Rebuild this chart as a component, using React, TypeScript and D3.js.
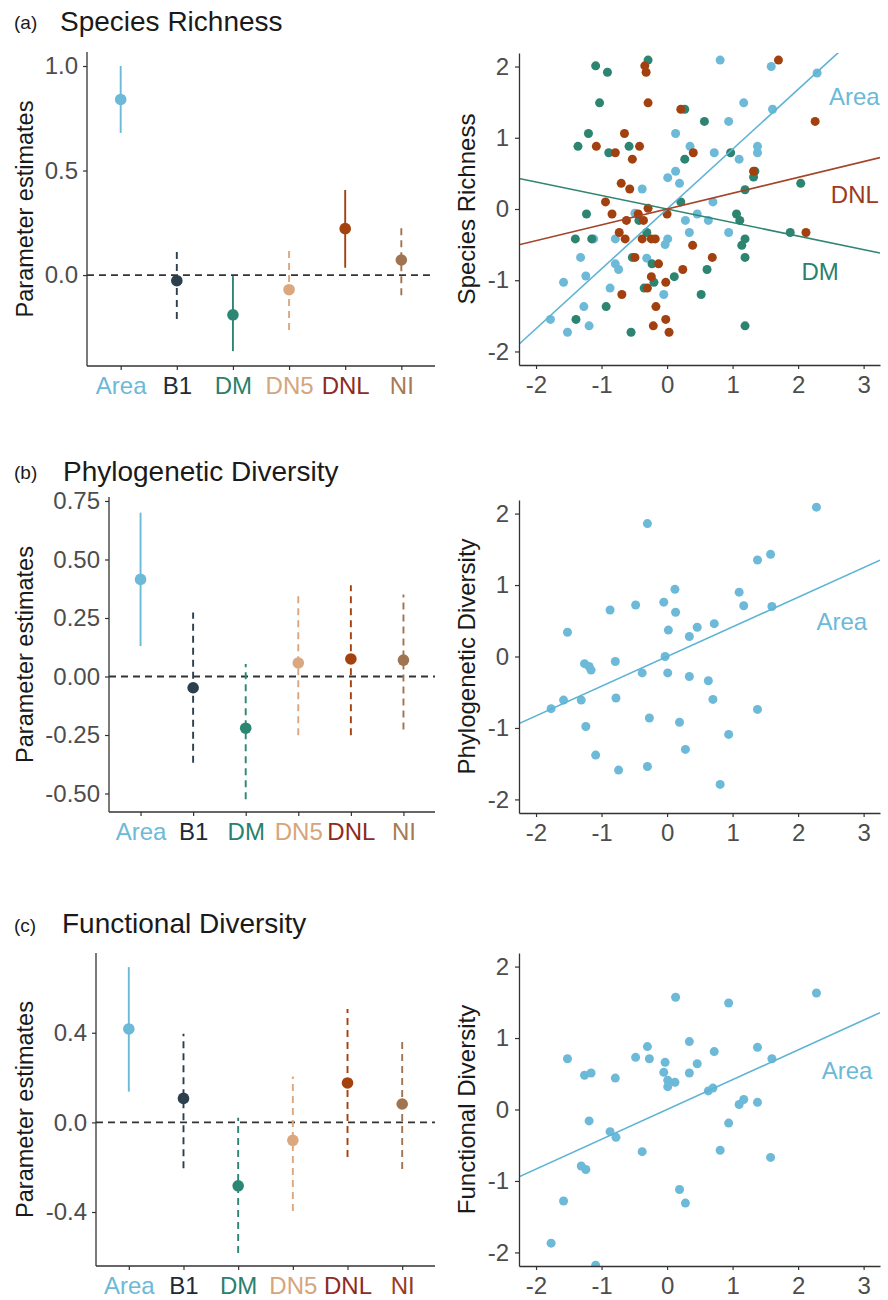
import * as d3 from "d3";
import React, { useEffect, useRef } from "react";

// ---- categories / colours ----
const categories = ["Area", "B1", "DM", "DN5", "DNL", "NI"];
const catColors = ["#6cb9d8", "#2b3f4d", "#2c8673", "#dba77e", "#a4420f", "#a07450"];
const catLabelColors = ["#6cb9d8", "#1e2a36", "#2b7f6e", "#d6a57c", "#8e2a1e", "#a77a52"];
const catLabelColorsC = ["#6cb9d8", "#1e2a36", "#2b7f6e", "#d6a57c", "#8e2a1e", "#9a3a22"];

// ---- parameter estimates ----
const srEst = [0.84, -0.027, -0.19, -0.07, 0.222, 0.072];
const srLow = [0.68, -0.21, -0.364, -0.263, 0.035, -0.096];
const srHigh = [1.0, 0.13, -0.005, 0.123, 0.407, 0.243];
const srSig = [true, false, true, false, true, false];

const pdEst = [0.415, -0.048, -0.221, 0.058, 0.075, 0.07];
const pdLow = [0.13, -0.369, -0.524, -0.251, -0.251, -0.226];
const pdHigh = [0.7, 0.273, 0.053, 0.363, 0.39, 0.35];
const pdSig = [true, false, false, false, false, false];

const fdEst = [0.417, 0.107, -0.283, -0.08, 0.176, 0.082];
const fdLow = [0.137, -0.205, -0.583, -0.396, -0.155, -0.208];
const fdHigh = [0.693, 0.396, 0.021, 0.205, 0.506, 0.372];
const fdSig = [true, false, false, false, false, false];

// ---- scatter data (standardised) ----
const srAreaX = [-1.78, -1.58, -1.52, -1.32, -1.27, -1.24, -1.19, -1.12, -0.87, -0.79, -0.79, -0.74, -0.49, -0.38, -0.31, -0.05, -0.03, 0.01, 0.01, 0.13, 0.13, 0.19, 0.28, 0.34, 0.35, 0.46, 0.63, 0.7, 0.72, 0.81, 0.94, 0.94, 1.1, 1.17, 1.38, 1.38, 1.59, 1.61, 2.29];
const srAreaY = [-1.55, -1.03, -1.73, -0.68, -1.37, -0.94, -1.64, -0.42, -1.11, -0.42, -0.77, -0.85, -0.06, 0.28, -0.69, -1.2, -0.5, -0.42, 0.44, 0.53, 1.06, 0.36, -0.16, -0.33, 0.88, -0.07, -0.16, 0.1, 0.79, 2.09, 1.23, -0.33, 0.7, 1.49, 0.88, 0.79, 2.0, 1.4, 1.91];

const srDmX = [-0.29, -1.09, -0.91, -1.03, -1.2, -1.36, -0.89, -0.58, 0.27, 0.57, 0.27, 0.97, 1.32, 1.34, 1.19, 2.04, -1.23, -1.4, -1.15, -0.43, -0.31, 0.21, 1.06, 1.11, 1.19, 1.14, 1.19, 1.88, -0.53, -0.23, -0.2, -0.35, 0.11, 0.61, 0.52, -0.93, -1.39, -0.55, 1.19];
const srDmY = [2.09, 2.01, 1.92, 1.49, 1.06, 0.88, 0.79, 0.88, 1.4, 1.23, 0.7, 0.79, 0.45, 0.53, 0.27, 0.36, -0.07, -0.42, -0.42, -0.16, -0.33, 0.1, -0.07, -0.16, -0.42, -0.51, -0.68, -0.33, -0.68, -0.77, -1.03, -1.11, -0.95, -0.85, -1.2, -1.37, -1.55, -1.73, -1.64];

const srDnlX = [-0.34, -0.32, 1.7, -0.29, 0.21, 2.26, -0.65, -1.08, -0.79, -0.42, -0.53, 0.4, 1.32, -0.7, -0.57, -0.94, -0.84, -0.29, -0.44, 0.0, -0.62, -0.36, -0.73, -0.64, -0.38, -0.24, -0.18, 0.39, -0.49, -0.13, 0.69, 2.12, 0.24, -0.24, -0.3, -0.02, -0.69, -0.17, -0.21, -0.02, 0.03];
const srDnlY = [2.01, 1.92, 2.09, 1.49, 1.4, 1.23, 1.06, 0.88, 0.79, 0.88, 0.7, 0.79, 0.53, 0.36, 0.28, 0.1, -0.07, 0.01, -0.07, -0.07, -0.16, -0.16, -0.33, -0.42, -0.42, -0.42, -0.42, -0.51, -0.68, -0.77, -0.68, -0.33, -0.85, -0.95, -1.11, -1.03, -1.2, -1.37, -1.64, -1.55, -1.73];

const pdX = [-1.77, -1.58, -1.52, -1.31, -1.26, -1.24, -1.19, -1.16, -1.09, -0.87, -0.79, -0.78, -0.74, -0.48, -0.38, -0.3, -0.3, -0.27, -0.05, -0.03, 0.01, 0.02, 0.12, 0.13, 0.19, 0.28, 0.34, 0.34, 0.46, 0.63, 0.7, 0.72, 0.81, 0.94, 1.1, 1.17, 1.38, 1.38, 1.58, 1.6, 2.28];
const pdY = [-0.73, -0.61, 0.34, -0.61, -0.1, -0.98, -0.14, -0.19, -1.38, 0.65, -0.07, -0.58, -1.59, 0.72, -0.23, 1.86, -1.54, -0.86, 0.76, 0.0, -0.23, 0.37, 0.94, 0.62, -0.92, -1.3, 0.28, -0.28, 0.41, -0.34, -0.6, 0.46, -1.79, -1.09, 0.9, 0.71, 1.35, -0.74, 1.43, 0.7, 2.09];

const fdX = [-1.77, -1.58, -1.52, -1.31, -1.26, -1.24, -1.19, -1.16, -1.09, -0.87, -0.79, -0.78, -0.48, -0.38, -0.3, -0.27, -0.03, -0.05, 0.01, 0.01, 0.13, 0.12, 0.19, 0.28, 0.34, 0.34, 0.46, 0.63, 0.7, 0.72, 0.81, 0.94, 0.94, 1.1, 1.17, 1.38, 1.38, 1.58, 1.6, 2.28];
const fdY = [-1.87, -1.28, 0.71, -0.79, 0.48, -0.84, -0.16, 0.51, -2.18, -0.31, 0.44, -0.39, 0.73, -0.59, 0.88, 0.71, 0.66, 0.52, 0.41, 0.32, 1.57, 0.38, -1.12, -1.31, 0.95, 0.51, 0.64, 0.26, 0.3, 0.81, -0.57, 1.49, -0.19, 0.07, 0.14, 0.87, 0.1, -0.67, 0.71, 1.63];

const scatterXTicks = [-2, -1, 0, 1, 2, 3];
const scatterYTicks = [-2, -1, 0, 1, 2];

const FONT = "'Liberation Sans', Arial, Helvetica, sans-serif";
const fix = (s: string) => s.replace("\u2212", "-");

function styleAxis(g: any) {
  g.attr("font-family", FONT).attr("font-size", 24);
  g.select(".domain").attr("stroke", "#333").attr("stroke-width", 1.3);
  g.selectAll(".tick line").attr("stroke", "#333").attr("stroke-width", 1.2);
  g.selectAll(".tick text").attr("fill", "#4d4d4d");
}

function drawCoef(svg: any, p: any) {
  const x = d3.scalePoint().domain(categories).range([p.x0, p.x1]).padding(0.6);
  const y = d3.scaleLinear().domain(p.domain).range([p.y1, p.y0]);
  const g = svg.append("g");

  // zero line
  g.append("line")
    .attr("x1", p.x0).attr("x2", p.x1)
    .attr("y1", y(0)).attr("y2", y(0))
    .attr("stroke", "#333").attr("stroke-width", 1.8)
    .attr("stroke-dasharray", "7,5");

  const rows = categories.map((c, i) => ({ c, i, est: p.est[i], lo: p.low[i], hi: p.high[i], sig: p.sig[i] }));

  g.selectAll(".bar").data(rows).enter().append("line")
    .attr("x1", (d: any) => x(d.c)).attr("x2", (d: any) => x(d.c))
    .attr("y1", (d: any) => y(d.lo)).attr("y2", (d: any) => y(d.hi))
    .attr("stroke", (d: any) => catColors[d.i])
    .attr("stroke-width", 1.9)
    .attr("stroke-dasharray", (d: any) => (d.sig ? null : "7,5"));

  g.selectAll(".pt").data(rows).enter().append("circle")
    .attr("cx", (d: any) => x(d.c)).attr("cy", (d: any) => y(d.est))
    .attr("r", 5.8)
    .attr("fill", (d: any) => catColors[d.i]);

  const ax = g.append("g").attr("transform", `translate(${p.x0},0)`)
    .call(d3.axisLeft(y).tickValues(p.ticks).tickSize(4).tickPadding(5).tickSizeOuter(0)
      .tickFormat((v: any) => fix(d3.format(p.fmt)(v))));
  styleAxis(ax);
  ax.select(".domain").attr("d", `M0,${p.y1}V${p.y0}`);

  const bx = g.append("g").attr("transform", `translate(0,${p.y1})`)
    .call(d3.axisBottom(x).tickSize(4).tickPadding(7).tickSizeOuter(0));
  styleAxis(bx);
  bx.select(".domain").attr("d", `M${p.x0},0H${p.x1}`);
  bx.selectAll(".tick text").attr("fill", (d: any, i: number) => p.labelColors[i]);

  g.append("text")
    .attr("transform", `translate(33,${(p.y0 + p.y1) / 2}) rotate(-90)`)
    .attr("text-anchor", "middle")
    .attr("font-family", FONT).attr("font-size", 23.5).attr("fill", "#1a1a1a")
    .text("Parameter estimates");

  g.append("text").attr("x", 14).attr("y", p.tagY)
    .attr("font-family", FONT).attr("font-size", 19).attr("fill", "#1a1a1a")
    .text(p.tag);
  g.append("text").attr("x", p.titleX).attr("y", p.titleY)
    .attr("font-family", FONT).attr("font-size", 28).attr("fill", "#1a1a1a")
    .text(p.title);
}

function drawScatter(svg: any, p: any) {
  const x0 = 519, x1 = 880;
  const x = d3.scaleLinear().domain([-2.26, 3.25]).range([x0, x1]);
  const y = d3.scaleLinear().domain([-2.19, 2.19]).range([p.y1, p.y0]);
  const g = svg.append("g");

  g.append("clipPath").attr("id", p.id).append("rect")
    .attr("x", x0).attr("y", p.y0).attr("width", x1 - x0).attr("height", p.y1 - p.y0);
  const plot = g.append("g").attr("clip-path", `url(#${p.id})`);

  p.series.forEach((s: any) => {
    const pts = s.xs.map((v: number, i: number) => [v, s.ys[i]]);
    plot.selectAll(null).data(pts).enter().append("circle")
      .attr("cx", (d: any) => x(d[0])).attr("cy", (d: any) => y(d[1]))
      .attr("r", 4.5).attr("fill", s.color);
  });

  p.series.forEach((s: any) => {
    const line = d3.line().x((d: any) => x(d)).y((d: any) => y(s.slope * d));
    plot.append("path").datum(x.domain())
      .attr("d", line as any)
      .attr("fill", "none").attr("stroke", s.lineColor).attr("stroke-width", 1.6);
  });

  p.series.forEach((s: any) => {
    g.append("text").attr("x", x(s.labelX)).attr("y", y(s.labelY))
      .attr("font-family", FONT).attr("font-size", 24).attr("fill", s.labelColor)
      .text(s.name);
  });

  const ax = g.append("g").attr("transform", `translate(${x0},0)`)
    .call(d3.axisLeft(y).tickValues(scatterYTicks).tickSize(4).tickPadding(6).tickSizeOuter(0)
      .tickFormat((v: any) => fix(d3.format("d")(v))));
  styleAxis(ax);

  const bx = g.append("g").attr("transform", `translate(0,${p.y1})`)
    .call(d3.axisBottom(x).tickValues(scatterXTicks).tickSize(4).tickPadding(7).tickSizeOuter(0)
      .tickFormat((v: any) => fix(d3.format("d")(v))));
  styleAxis(bx);

  g.append("text")
    .attr("transform", `translate(475,${(p.y0 + p.y1) / 2}) rotate(-90)`)
    .attr("text-anchor", "middle")
    .attr("font-family", FONT).attr("font-size", 24).attr("fill", "#1a1a1a")
    .text(p.yTitle);
}

export default function App() {
  const svgRef = useRef<SVGSVGElement>(null);

  useEffect(() => {
    const svg = d3.select(svgRef.current);
    svg.selectAll("*").remove();

    // (a) species richness
    drawCoef(svg, {
      x0: 87, x1: 435, y0: 52, y1: 366, domain: [-0.435, 1.067], ticks: [0, 0.5, 1.0], fmt: ".1f",
      est: srEst, low: srLow, high: srHigh, sig: srSig, labelColors: catLabelColors,
      tag: "(a)", tagY: 29, title: "Species Richness", titleX: 60, titleY: 31,
    });
    drawScatter(svg, {
      id: "clipA", y0: 53, y1: 365, yTitle: "Species Richness",
      series: [
        { name: "Area", xs: srAreaX, ys: srAreaY, slope: srEst[0], color: "#6cb9d8", lineColor: "#5db3d6", labelColor: "#6cb9d8", labelX: 2.47, labelY: 1.46 },
        { name: "DM", xs: srDmX, ys: srDmY, slope: srEst[2], color: "#2c8471", lineColor: "#2e8570", labelColor: "#2e7f6c", labelX: 2.05, labelY: -1.0 },
        { name: "DNL", xs: srDnlX, ys: srDnlY, slope: srEst[4], color: "#a2410f", lineColor: "#a4452a", labelColor: "#9c3a22", labelX: 2.5, labelY: 0.08 },
      ],
    });

    // (b) phylogenetic diversity
    drawCoef(svg, {
      x0: 109, x1: 435, y0: 497, y1: 812, domain: [-0.579, 0.767], ticks: [-0.5, -0.25, 0, 0.25, 0.5, 0.75], fmt: ".2f",
      est: pdEst, low: pdLow, high: pdHigh, sig: pdSig, labelColors: catLabelColors,
      tag: "(b)", tagY: 479, title: "Phylogenetic Diversity", titleX: 63, titleY: 481,
    });
    drawScatter(svg, {
      id: "clipB", y0: 500, y1: 813, yTitle: "Phylogenetic Diversity",
      series: [
        { name: "Area", xs: pdX, ys: pdY, slope: pdEst[0], color: "#6cb9d8", lineColor: "#5db3d6", labelColor: "#6cb9d8", labelX: 2.28, labelY: 0.37 },
      ],
    });

    // (c) functional diversity
    drawCoef(svg, {
      x0: 96, x1: 435, y0: 953, y1: 1266, domain: [-0.641, 0.756], ticks: [-0.4, 0, 0.4], fmt: ".1f",
      est: fdEst, low: fdLow, high: fdHigh, sig: fdSig, labelColors: catLabelColorsC,
      tag: "(c)", tagY: 932, title: "Functional Diversity", titleX: 62, titleY: 933,
    });
    drawScatter(svg, {
      id: "clipC", y0: 953, y1: 1266, yTitle: "Functional Diversity",
      series: [
        { name: "Area", xs: fdX, ys: fdY, slope: fdEst[0], color: "#6cb9d8", lineColor: "#5db3d6", labelColor: "#6cb9d8", labelX: 2.36, labelY: 0.42 },
      ],
    });
  }, []);

  return (
    <svg ref={svgRef} width={888} height={1300}
      style={{ position: "absolute", left: 0, top: 0, background: "#fff" }} />
  );
}
